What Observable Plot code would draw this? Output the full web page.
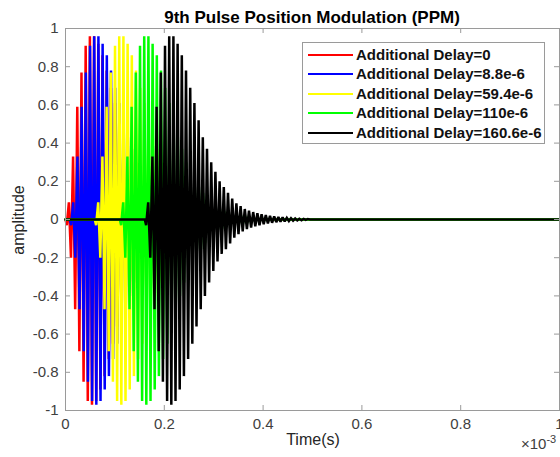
<!DOCTYPE html>
<html><head><meta charset="utf-8">
<script src="https://cdn.jsdelivr.net/npm/d3@7"></script>
<script src="https://cdn.jsdelivr.net/npm/@observablehq/plot@0.6"></script>
<style>
body{margin:0;background:#fff;font-family:"Liberation Sans",Arial,sans-serif;}
#wrap{position:relative;width:560px;height:457px;overflow:hidden;}
.abs{position:absolute;white-space:nowrap;line-height:1;}
#legend{position:absolute;left:302px;top:42px;width:243px;height:102px;box-sizing:border-box;border:1px solid #9a9a9a;background:#fff;}
.row{position:absolute;left:0;height:20px;width:100%;}
.row .sw{position:absolute;left:5px;top:9px;width:45px;height:2px;}
.row .lt{position:absolute;left:53px;top:2px;font-weight:bold;font-size:15px;color:#111;white-space:nowrap;line-height:1;}
</style></head><body>
<div id="wrap"></div>
<script>
// ---- data ----
const seriesLabels = ["Additional Delay=0", "Additional Delay=8.8e-6", "Additional Delay=59.4e-6", "Additional Delay=110e-6", "Additional Delay=160.6e-6"];
const delays = [0, 8.8e-6, 59.4e-6, 110e-6, 160.6e-6];
// successive half-cycle extrema of the (shared) pulse, read from the fully visible black pulse
const pulseExtrema = [-0.03, 0.09, -0.20, 0.33, -0.47, 0.59, -0.69, 0.77, -0.85, 0.91, -0.95, 0.96, -0.97, 0.96, -0.95, 0.92, -0.89, 0.86, -0.82, 0.78, -0.73, 0.69, -0.65, 0.61, -0.56, 0.52, -0.47, 0.43, -0.40, 0.37, -0.33, 0.30, -0.27, 0.25, -0.22, 0.20, -0.18, 0.17, -0.155, 0.14, -0.125, 0.11, -0.095, 0.085, -0.077, 0.07, -0.062, 0.055, -0.05, 0.046, -0.042, 0.039, -0.036, 0.033, -0.03, 0.028, -0.025, 0.023, -0.021, 0.019, -0.017, 0.016, -0.014, 0.013, -0.012, 0.011, -0.01, 0.009, -0.008, 0.007, -0.006, 0.005, -0.0045, 0.004, -0.0035, 0.003, -0.0025, 0.002];
const halfPeriod = 4.25e-6;
const firstExtremumOffset = 2.6e-6;
const timeEnd = 1e-3;
const xTicks = [0, 0.2e-3, 0.4e-3, 0.6e-3, 0.8e-3, 1e-3];
const xTickLabels = ["0", "0.2", "0.4", "0.6", "0.8", "1"];
const yTicks = [-1, -0.8, -0.6, -0.4, -0.2, 0, 0.2, 0.4, 0.6, 0.8, 1];
const yTickLabels = ["-1", "-0.8", "-0.6", "-0.4", "-0.2", "0", "0.2", "0.4", "0.6", "0.8", "1"];

// ---- styles ----
const colors = ["#ff0000", "#0000ff", "#ffff00", "#00ff00", "#000000"];
const axisGray = "#9a9a9a";
const W = 560, H = 457, mL = 65, mR = 1, mT = 28, mB = 47;
const frameW = W - mL - mR, frameH = H - mT - mB;

function buildSeries(delay) {
  const pts = [{t: 0, v: 0}, {t: delay, v: 0}];
  pulseExtrema.forEach((v, j) => pts.push({t: delay + firstExtremumOffset + j * halfPeriod, v}));
  pts.push({t: delay + firstExtremumOffset + pulseExtrema.length * halfPeriod, v: 0});
  pts.push({t: timeEnd, v: 0});
  return pts;
}

const lineMarks = delays.map((d, i) => Plot.line(buildSeries(d), {x: "t", y: "v", stroke: colors[i], strokeWidth: 2.5, strokeLinejoin: "miter", strokeMiterlimit: 2}));

const chart = Plot.plot({
  width: W, height: H,
  marginLeft: mL, marginRight: mR, marginTop: mT, marginBottom: mB,
  x: {domain: [0, timeEnd]},
  y: {domain: [-1, 1]},
  style: {fontFamily: "'Liberation Sans', Arial, sans-serif", fontSize: "15px", color: "#404040", background: "#fff"},
  marks: [
    ...lineMarks,
    Plot.frame({stroke: axisGray}),
    Plot.tickX(xTicks, {x: d => d, insetTop: frameH - 5, stroke: axisGray}),
    Plot.tickX(xTicks, {x: d => d, insetBottom: frameH - 5, stroke: axisGray}),
    Plot.tickY(yTicks, {y: d => d, insetRight: frameW - 5, stroke: axisGray}),
    Plot.tickY(yTicks, {y: d => d, insetLeft: frameW - 5, stroke: axisGray}),
    Plot.axisX(xTicks, {tickSize: 0, tickPadding: 8, tickFormat: d => xTickLabels[xTicks.indexOf(d)], label: null}),
    Plot.axisY(yTicks, {tickSize: 0, tickPadding: 7, tickFormat: d => yTickLabels[yTicks.indexOf(d)], label: null})
  ]
});

const wrap = document.getElementById("wrap");
wrap.appendChild(chart);

function addText(html, css) {
  const el = document.createElement("div");
  el.className = "abs";
  el.innerHTML = html;
  Object.assign(el.style, css);
  wrap.appendChild(el);
  return el;
}
addText("9th Pulse Position Modulation (PPM)", {left: "312px", top: "17px", transform: "translate(-50%,-50%)", fontWeight: "bold", fontSize: "17px", color: "#000"});
addText("Time(s)", {left: "313px", top: "440px", transform: "translate(-50%,-50%)", fontSize: "16px", color: "#262626"});
addText("amplitude", {left: "19px", top: "220px", transform: "translate(-50%,-50%) rotate(-90deg)", fontSize: "16px", color: "#262626"});
addText("&times;10<sup style='font-size:11px;vertical-align:6px'>-3</sup>", {left: "521px", top: "434px", fontSize: "15px", color: "#404040"});

const legend = document.createElement("div");
legend.id = "legend";
seriesLabels.forEach((lab, i) => {
  const row = document.createElement("div");
  row.className = "row";
  row.style.top = (1.5 + i * 19.5) + "px";
  const sw = document.createElement("div");
  sw.className = "sw";
  sw.style.background = colors[i];
  const lt = document.createElement("div");
  lt.className = "lt";
  lt.textContent = lab;
  row.appendChild(sw); row.appendChild(lt);
  legend.appendChild(row);
});
wrap.appendChild(legend);
</script>
</body></html>
